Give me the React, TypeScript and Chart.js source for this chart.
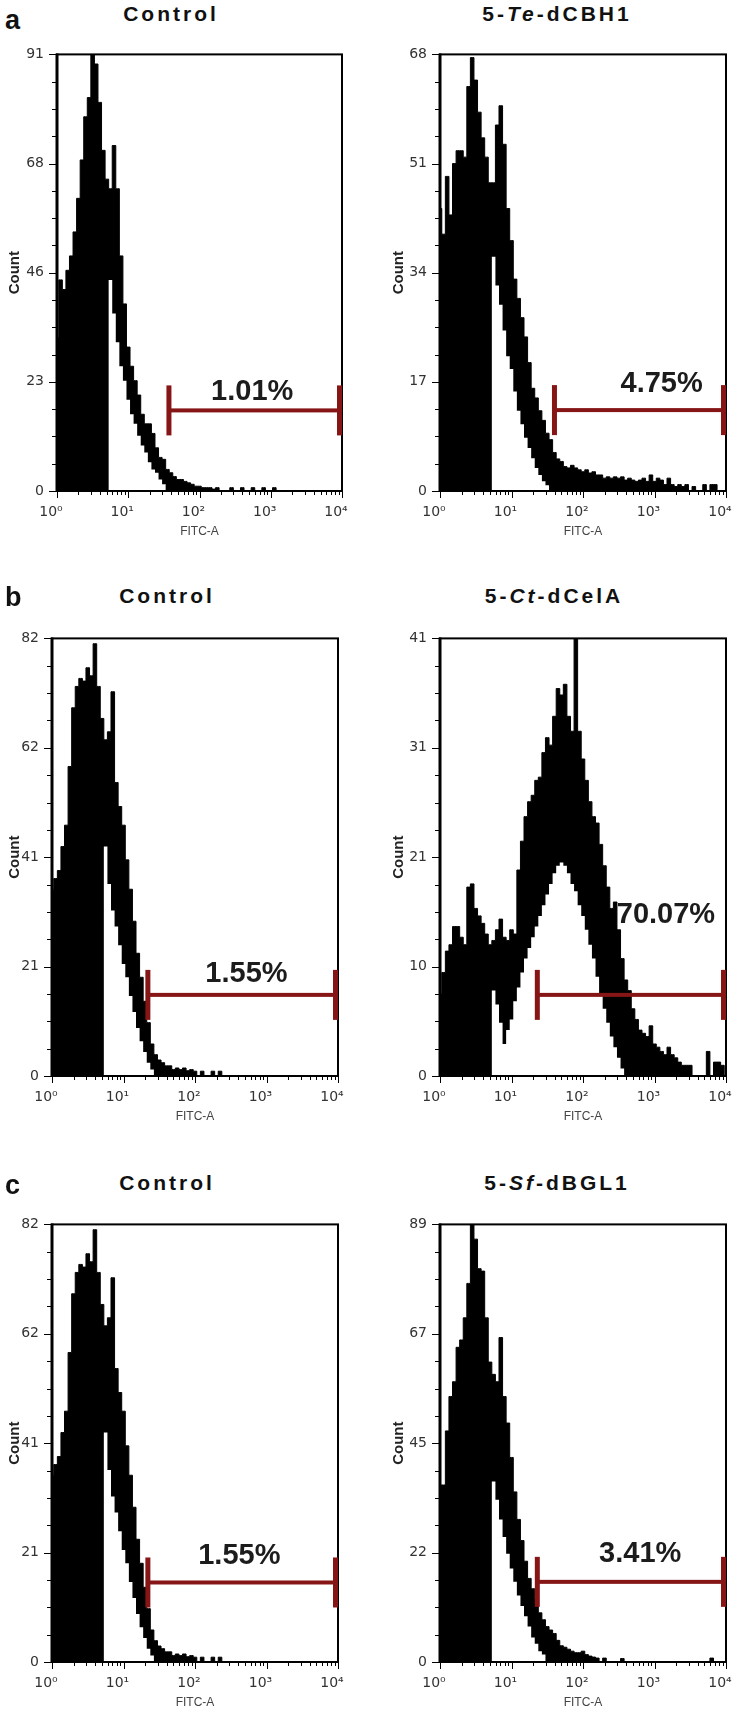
import React, { useEffect, useRef } from "react";
import { Chart, registerables } from "chart.js";

Chart.register(...registerables);

// ---------- DATA ----------
// bin positions along FITC-A, in decades (10^d)
const decades = [
  0, 0.05, 0.1, 0.15, 0.2, 0.25, 0.3, 0.35, 0.4, 0.45,
  0.5, 0.55, 0.6, 0.65, 0.7, 0.75, 0.8, 0.85, 0.9, 0.95,
  1, 1.05, 1.1, 1.15, 1.2, 1.25, 1.3, 1.35, 1.4, 1.45,
  1.5, 1.55, 1.6, 1.65, 1.7, 1.75, 1.8, 1.85, 1.9, 1.95,
  2, 2.05, 2.1, 2.15, 2.2, 2.25, 2.3, 2.35, 2.4, 2.45,
  2.5, 2.55, 2.6, 2.65, 2.7, 2.75, 2.8, 2.85, 2.9, 2.95,
  3, 3.05, 3.1, 3.15, 3.2, 3.25, 3.3, 3.35, 3.4, 3.45,
  3.5, 3.55, 3.6, 3.65, 3.7, 3.75, 3.8, 3.85, 3.9, 3.95,
  4,
];

const xTickLabels = ["10\u2070", "10\u00b9", "10\u00b2", "10\u00b3", "10\u2074"];

// panel a, Control
const ctrlAHigh = [
  32, 44, 42, 46, 49, 54, 61, 69, 78, 82,
  91, 89, 81, 71, 65, 63, 72, 63, 49, 39,
  30, 26, 23, 20, 16, 14, 14, 12, 9, 7,
  6.6, 4.5, 3.8, 3, 2.4, 2.4, 2, 1.7, 1.4, 1,
  1, 0.7, 0.7, 0.7, 0.4, 0.7, 0, 0, 0, 0.7,
  0, 0, 0.7, 0, 0, 0.7, 0, 0, 0.7, 0,
  0, 0.7, 0, 0, 0, 0, 0, 0, 0, 0,
  0, 0, 0, 0, 0, 0, 0, 0, 0, 0,
  0,
];
const ctrlALow = [
  0, 0, 0, 0, 0, 0, 0, 0, 0, 0,
  0, 0, 0, 0, 0, 44, 37, 31, 26, 23,
  19, 16, 14, 11.5, 9.5, 8, 6, 4.5, 3.8, 2.4,
  1.4, 0, 0, 0, 0, 0, 0, 0, 0, 0,
  0, 0, 0, 0, 0, 0, 0, 0, 0, 0,
  0, 0, 0, 0, 0, 0, 0, 0, 0, 0,
  0, 0, 0, 0, 0, 0, 0, 0, 0, 0,
  0, 0, 0, 0, 0, 0, 0, 0, 0, 0,
  0,
];

// panel a, 5-Te-dCBH1
const teHigh = [
  44, 40, 49, 43, 51, 53, 53, 52, 63, 67.5,
  64, 59, 55, 52, 48, 48, 57, 60, 54, 44,
  39, 33, 30, 27, 24, 20, 16, 14.5, 12.5, 11,
  9, 8, 6, 5, 4.6, 3.8, 3.6, 4, 3.6, 3.3,
  3, 3.3, 2.8, 3, 2.5, 2.5, 2, 2.2, 2, 2.2,
  2, 2.2, 1.7, 2, 1.7, 1.5, 1.7, 2, 1.5, 2.5,
  1.5, 2, 1.7, 1, 2, 1, 0.7, 1, 0.7, 1,
  0, 0.7, 0, 0, 1, 0, 1, 1, 0, 0,
  0,
];
const teLow = [
  0, 0, 0, 0, 0, 0, 0, 0, 0, 0,
  0, 0, 0, 0, 0, 36.5, 32, 29, 25, 21,
  19, 15.5, 12.5, 10.4, 8.3, 6.7, 5.1, 3.6, 2.5, 1.5,
  0.9, 0, 0, 0, 0, 0, 0, 0, 0, 0,
  0, 0, 0, 0, 0, 0, 0, 0, 0, 0,
  0, 0, 0, 0, 0, 0, 0, 0, 0, 0,
  0, 0, 0, 0, 0, 0, 0, 0, 0, 0,
  0, 0, 0, 0, 0, 0, 0, 0, 0, 0,
  0,
];

// panels b and c, Control
const ctrlBHigh = [
  35, 37, 38.5, 43, 47, 58, 69, 73, 74.5, 74,
  76.5, 75, 81, 73, 67, 63, 64.5, 72, 55, 50.5,
  47, 40.5, 35, 29, 23, 18.5, 14, 10, 6, 4,
  3, 2.5, 1.9, 1.9, 1.2, 1.5, 1.2, 1.5, 1, 1.2,
  0.9, 0, 0.9, 0, 0, 0.9, 0, 0.9, 0, 0,
  0, 0, 0, 0, 0, 0, 0, 0, 0, 0,
  0, 0, 0, 0, 0, 0, 0, 0, 0, 0,
  0, 0, 0, 0, 0, 0, 0, 0, 0, 0,
  0,
];
const ctrlBLow = [
  0, 0, 0, 0, 0, 0, 0, 0, 0, 0,
  0, 0, 0, 0, 0, 43, 36, 31, 28, 24.5,
  21, 18.5, 15, 12, 9, 6.5, 4.5, 2.5, 1.2, 0,
  0, 0, 0, 0, 0, 0, 0, 0, 0, 0,
  0, 0, 0, 0, 0, 0, 0, 0, 0, 0,
  0, 0, 0, 0, 0, 0, 0, 0, 0, 0,
  0, 0, 0, 0, 0, 0, 0, 0, 0, 0,
  0, 0, 0, 0, 0, 0, 0, 0, 0, 0,
  0,
];

// panel b, 5-Ct-dCelA
const ctHigh = [
  7.7, 9.7, 11.7, 12.3, 14, 14, 13, 12.3, 17.7, 18,
  15.7, 15, 14.3, 13.3, 12.3, 12.7, 13.7, 14.7, 13, 12.7,
  13.7, 13.3, 19.3, 22, 24.3, 25.7, 26.3, 27.7, 28, 30.3,
  31.7, 31, 33.7, 36.3, 35.7, 36.7, 33.7, 32.3, 41, 32.3,
  29.7, 27.7, 25.7, 24.3, 23.7, 21.7, 19.7, 17.7, 15.7, 16.3,
  13.7, 11, 9, 8, 6.3, 5.3, 4.3, 4, 3.7, 4.7,
  3, 2.7, 2.3, 2, 2.7, 2, 1.7, 1.3, 1, 1,
  1, 0, 0, 0, 0, 2.3, 0, 1.3, 1.3, 1,
  0,
];
const ctLow = [
  0, 0, 0, 0, 0, 0, 0, 0, 0, 0,
  0, 0, 0, 0, 0, 8, 6.7, 5, 3, 4.3,
  5.3, 7, 8.3, 9.7, 11, 12, 13, 14, 15, 16,
  17, 18, 19, 19.7, 20, 19.7, 19, 18, 17.3, 16,
  15, 13.7, 12.3, 11, 9.3, 7.7, 6.3, 5, 3.7, 2.7,
  1.7, 0.7, 0, 0, 0, 0, 0, 0, 0, 0,
  0, 0, 0, 0, 0, 0, 0, 0, 0, 0,
  0, 0, 0, 0, 0, 0, 0, 0, 0, 0,
  0,
];

// panel c, 5-Sf-dBGL1
const sfHigh = [
  36, 36, 47, 54, 57, 64, 65.5, 70, 77, 89,
  86, 80, 79.5, 70, 61, 58.5, 57, 66, 54, 48.6,
  41.6, 34.6, 29, 24.7, 20.5, 17, 14.9, 12.8, 10, 8.6,
  7.2, 6.5, 5.8, 4.4, 3.3, 3, 2.6, 2.2, 1.9, 1.9,
  2.2, 1.5, 1.2, 1, 0.8, 0, 0.8, 0, 0, 0,
  0, 0.7, 0, 0, 0, 0, 0, 0, 0, 0,
  0, 0, 0, 0, 0, 0, 0, 0, 0, 0,
  0, 0, 0, 0, 0, 0, 0.8, 0, 0, 0,
  0,
];
const sfLow = [
  0, 0, 0, 0, 0, 0, 0, 0, 0, 0,
  0, 0, 0, 0, 0, 36.7, 33, 29, 25.4, 22,
  19, 16.3, 13.5, 11.4, 9.3, 7.2, 5, 3.7, 2.2, 1.5,
  0, 0, 0, 0, 0, 0, 0, 0, 0, 0,
  0, 0, 0, 0, 0, 0, 0, 0, 0, 0,
  0, 0, 0, 0, 0, 0, 0, 0, 0, 0,
  0, 0, 0, 0, 0, 0, 0, 0, 0, 0,
  0, 0, 0, 0, 0, 0, 0, 0, 0, 0,
  0,
];

// y tick labels per panel (last one is the axis maximum)
const yTicksCtrlA = [0, 23, 46, 68, 91];
const yTicksTe = [0, 17, 34, 51, 68];
const yTicksCtrlB = [0, 21, 41, 62, 82];
const yTicksCt = [0, 10, 21, 31, 41];
const yTicksCtrlC = [0, 21, 41, 62, 82];
const yTicksSf = [0, 22, 45, 67, 89];

// gates (in decades / counts) and their percentages
const gateFrom = [1.55, 1.58, 1.32, 1.34, 1.32, 1.34];
const gateLevel = [16.8, 12.6, 15.2, 7.6, 14.9, 16.3];
const gateText = ["1.01%", "4.75%", "1.55%", "70.07%", "1.55%", "3.41%"];
const gateTextAt = [2.74, 3.1, 2.72, 3.16, 2.62, 2.8];
const gateTextLevel = [20.6, 16.6, 19.2, 15.1, 19.8, 21.9];

// ---------- LAYOUT ----------
const frames = [
  { left: 0, width: 367, plotL: 57, plotR: 342, top: 53, bottom: 491, titleX: 15 },
  { left: 367, width: 390, plotL: 440, plotR: 726, top: 53, bottom: 491, titleX: 32 },
  { left: 0, width: 367, plotL: 52, plotR: 338, top: 637, bottom: 1076, titleX: 15 },
  { left: 367, width: 390, plotL: 440, plotR: 726, top: 637, bottom: 1076, titleX: 32 },
  { left: 0, width: 367, plotL: 52, plotR: 338, top: 1223, bottom: 1662, titleX: 15 },
  { left: 367, width: 390, plotL: 440, plotR: 726, top: 1223, bottom: 1662, titleX: 32 },
];

const series = [
  { hi: ctrlAHigh, lo: ctrlALow, yTicks: yTicksCtrlA },
  { hi: teHigh, lo: teLow, yTicks: yTicksTe },
  { hi: ctrlBHigh, lo: ctrlBLow, yTicks: yTicksCtrlB },
  { hi: ctHigh, lo: ctLow, yTicks: yTicksCt },
  { hi: ctrlBHigh, lo: ctrlBLow, yTicks: yTicksCtrlC },
  { hi: sfHigh, lo: sfLow, yTicks: yTicksSf },
];

const PAD_TOP = 12;
const X_AXIS_H = 62;
const TICK_FONT = "'DejaVu Sans', sans-serif";
const GATE_RED = "#861616";

const xTickValues: number[] = [];
for (let e = 0; e < 4; e++) {
  for (let k = 1; k <= 9; k++) xTickValues.push(k * Math.pow(10, e));
}
xTickValues.push(10000);

function powerIndex(v: number): number {
  const e = Math.round(Math.log10(v));
  return Math.abs(v - Math.pow(10, e)) < 1e-6 ? e : -1;
}

function Histogram({ idx }: { idx: number }) {
  const ref = useRef<HTMLCanvasElement | null>(null);
  const f = frames[idx];
  const s = series[idx];
  const height = f.bottom - f.top + PAD_TOP + X_AXIS_H;

  useEffect(() => {
    const yMax = s.yTicks[s.yTicks.length - 1];
    const decor = {
      id: "decor" + idx,
      afterDraw(chart: any) {
        const { ctx, chartArea: a } = chart;
        const x = chart.scales.x;
        const y = chart.scales.y;
        ctx.save();
        ctx.strokeStyle = "#000";
        ctx.lineWidth = 1;
        // y tick marks
        y.ticks.forEach((t: any, i: number) => {
          const py = Math.round(y.getPixelForValue(t.value)) + 0.5;
          const len = i % 4 === 0 ? 8 : 5;
          ctx.beginPath();
          ctx.moveTo(a.left - len, py);
          ctx.lineTo(a.left, py);
          ctx.stroke();
        });
        // x tick marks
        x.ticks.forEach((t: any) => {
          const px = Math.round(x.getPixelForValue(t.value)) + 0.5;
          const len = powerIndex(t.value) >= 0 ? 7 : 4;
          ctx.beginPath();
          ctx.moveTo(px, a.bottom);
          ctx.lineTo(px, a.bottom + len);
          ctx.stroke();
        });
        // frame
        ctx.lineWidth = 2;
        ctx.strokeRect(a.left, a.top, a.right - a.left, a.bottom - a.top);
        ctx.lineWidth = 3;
        ctx.beginPath();
        ctx.moveTo(a.left, a.top - 1);
        ctx.lineTo(a.left, a.bottom + 1);
        ctx.stroke();
        // gate
        const gx0 = x.getPixelForValue(Math.pow(10, gateFrom[idx]));
        const gx1 = a.right;
        const gy = y.getPixelForValue(gateLevel[idx]);
        ctx.fillStyle = GATE_RED;
        ctx.fillRect(gx0, gy - 2, gx1 - gx0, 4);
        ctx.fillRect(gx0 - 1, gy - 25, 5, 50);
        ctx.fillRect(gx1 - 5, gy - 25, 5, 50);
        // percentage
        ctx.fillStyle = "#1c1c1c";
        ctx.font = "bold 29px 'Liberation Sans', Arial, sans-serif";
        ctx.textAlign = "center";
        ctx.textBaseline = "middle";
        ctx.fillText(
          gateText[idx],
          x.getPixelForValue(Math.pow(10, gateTextAt[idx])),
          y.getPixelForValue(gateTextLevel[idx])
        );
        ctx.restore();
      },
    };

    const chart = new Chart(ref.current as HTMLCanvasElement, {
      type: "line",
      data: {
        datasets: [
          {
            label: "lower",
            data: decades.map((d, i) => ({ x: Math.pow(10, d), y: s.lo[i] })),
            borderWidth: 0,
            borderColor: "rgba(0,0,0,0)",
            pointRadius: 0,
            stepped: "middle",
            fill: false,
          },
          {
            label: "Count",
            data: decades.map((d, i) => ({ x: Math.pow(10, d), y: s.hi[i] })),
            borderWidth: 1,
            borderColor: "#000",
            backgroundColor: "#000",
            pointRadius: 0,
            stepped: "middle",
            fill: "-1",
          },
        ],
      },
      options: {
        responsive: false,
        animation: false,
        events: [],
        layout: {
          padding: { top: PAD_TOP, right: f.left + f.width - f.plotR, left: 0, bottom: 0 },
        },
        plugins: { legend: { display: false }, tooltip: { enabled: false } },
        scales: {
          x: {
            type: "logarithmic",
            min: 1,
            max: 10000,
            afterFit: (sc: any) => {
              sc.height = X_AXIS_H;
            },
            afterBuildTicks: (sc: any) => {
              sc.ticks = xTickValues.map((v) => ({ value: v, major: powerIndex(v) >= 0 }));
            },
            ticks: {
              autoSkip: false,
              maxRotation: 0,
              minRotation: 0,
              padding: 5,
              labelOffset: -6,
              color: "#333",
              font: { family: TICK_FONT, size: 14 },
              callback: (v: any) => {
                const e = powerIndex(Number(v));
                return e >= 0 ? xTickLabels[e] : "";
              },
            },
            grid: { drawOnChartArea: false, tickLength: 8, tickColor: "rgba(0,0,0,0)" },
            border: { display: false },
            title: {
              display: true,
              text: "FITC-A",
              color: "#444",
              font: { family: "'Liberation Sans', Arial, sans-serif", size: 12 },
              padding: { top: 0, bottom: 14 },
            },
          },
          y: {
            type: "linear",
            min: 0,
            max: yMax,
            afterFit: (sc: any) => {
              sc.width = f.plotL - f.left;
            },
            afterBuildTicks: (sc: any) => {
              const arr: any[] = [];
              for (let k = 0; k <= 16; k++) arr.push({ value: (k * yMax) / 16 });
              sc.ticks = arr;
            },
            ticks: {
              autoSkip: false,
              padding: 5,
              color: "#333",
              font: { family: TICK_FONT, size: 14 },
              callback: (_v: any, i: number) => (i % 4 === 0 ? String(s.yTicks[i / 4]) : ""),
            },
            grid: { drawOnChartArea: false, tickLength: 8, tickColor: "rgba(0,0,0,0)" },
            border: { display: false },
            title: {
              display: true,
              text: "Count",
              color: "#222",
              font: { family: "'Liberation Sans', Arial, sans-serif", size: 15, weight: "bold" },
              padding: { top: f.titleX - 9, bottom: 0 },
            },
          },
        },
      },
      plugins: [decor],
    } as any);
    return () => chart.destroy();
  }, []);

  return (
    <canvas
      ref={ref}
      width={f.width}
      height={height}
      style={{ position: "absolute", left: f.left, top: f.top - PAD_TOP, width: f.width, height }}
    />
  );
}

const titleStyle = (x: number, y: number): React.CSSProperties => ({
  position: "absolute",
  left: x,
  top: y,
  transform: "translate(-50%, -50%)",
  font: "bold 21px 'Liberation Sans', Arial, sans-serif",
  letterSpacing: "3px",
  lineHeight: "22px",
  whiteSpace: "nowrap",
  color: "#111",
});

const letterStyle = (y: number): React.CSSProperties => ({
  position: "absolute",
  left: 5,
  top: y,
  font: "bold 27px 'Liberation Sans', Arial, sans-serif",
  lineHeight: "27px",
  color: "#111",
});

export default function App() {
  return (
    <div
      style={{
        position: "absolute",
        left: 0,
        top: 0,
        width: 734,
        height: 1723,
        overflow: "hidden",
        background: "#fff",
      }}
    >
      {frames.map((_, i) => (
        <Histogram key={i} idx={i} />
      ))}
      <div style={letterStyle(7)}>a</div>
      <div style={letterStyle(584)}>b</div>
      <div style={letterStyle(1172)}>c</div>
      <div style={titleStyle(171, 14)}>Control</div>
      <div style={titleStyle(557, 14)}>
        5-<i>Te</i>-dCBH1
      </div>
      <div style={titleStyle(167, 596)}>Control</div>
      <div style={titleStyle(554, 596)}>
        5-<i>Ct</i>-dCelA
      </div>
      <div style={titleStyle(167, 1183)}>Control</div>
      <div style={titleStyle(557, 1183)}>
        5-<i>Sf</i>-dBGL1
      </div>
    </div>
  );
}
